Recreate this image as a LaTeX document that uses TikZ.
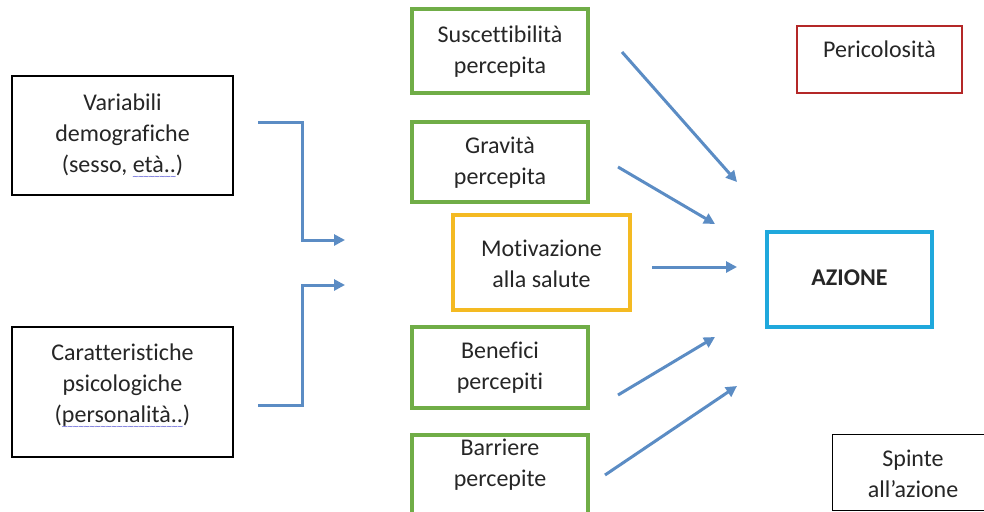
\documentclass[tikz,border=0pt]{standalone}
\usepackage{fontspec}
\setmainfont{Carlito}[Ligatures=NoCommon]
\newfontfamily\wavefont{DejaVu Sans}
\usetikzlibrary{arrows.meta}
\definecolor{gboxc}{HTML}{70AD47}
\definecolor{yboxc}{HTML}{F4BA22}
\definecolor{rboxc}{HTML}{B42828}
\definecolor{bboxc}{HTML}{1FA8DC}
\definecolor{arrc}{HTML}{5B8CC4}
\definecolor{txtc}{HTML}{262626}
\definecolor{wavec}{HTML}{4A4AD0}
\newcommand\spellwave[1]{\setbox0\hbox{#1}\rlap{\raisebox{-7pt}[0pt][0pt]{\hbox to \wd0{\color{wavec}\fontsize{8}{8}\wavefont\xleaders\hbox{\kern-0.7pt\char"223C\kern-0.7pt}\hfil}}}\box0}
\tikzset{
  x=1pt, y=-1pt,
  boxbase/.style={rectangle, inner sep=0pt, fill=white},
  kbox/.style={boxbase, draw=black, line width=1.3pt},
  gbox/.style={boxbase, draw=gboxc, line width=3.8pt},
  ybox/.style={boxbase, draw=yboxc, line width=3.8pt},
  rbox/.style={boxbase, draw=rboxc, line width=2.6pt},
  bbox/.style={boxbase, draw=bboxc, line width=3.8pt},
  txt/.style={align=center, text=txtc, inner sep=0pt, font=\fontsize{24}{31}\selectfont},
  arr/.style={draw=arrc, line width=3pt, -{Triangle[length=11pt,width=11pt]}},
  elbow/.style={draw=arrc, line width=3pt, -{Triangle[length=11pt,width=11pt]}}
}
\begin{document}
\begin{tikzpicture}
\useasboundingbox (0,0) rectangle (984,511);
\begin{scope}
\clip (0,0) rectangle (984,511);
% left boxes
\node[kbox, minimum width=221pt, minimum height=119pt] (vd) at (122.5,135.5) {};
\node[txt] (vdt) at (122.5,135) {Variabili\\demografiche\\(sesso, \spellwave{età..})};
\node[kbox, minimum width=221pt, minimum height=130pt] (cp) at (122.5,392) {};
\node[txt] (cpt) at (122.5,385) {Caratteristiche\\psicologiche\\(\spellwave{personalità..})};
% middle boxes
\node[gbox, minimum width=176pt, minimum height=84pt] (sp) at (500,51) {};
\node[txt] (spt) at (500,52) {Suscettibilità\\percepita};
\node[gbox, minimum width=176pt, minimum height=80pt] (gp) at (500,162) {};
\node[txt] (gpt) at (500,163) {Gravità\\percepita};
\node[ybox, minimum width=177pt, minimum height=95pt] (ms) at (541.5,262.5) {};
\node[txt] (mst) at (541.5,264) {Motivazione\\alla salute};
\node[gbox, minimum width=176pt, minimum height=81pt] (bp) at (500,367.5) {};
\node[txt] (bpt) at (500,368) {Benefici\\percepiti};
\node[gbox, minimum width=176pt, minimum height=90pt] (brp) at (500,480) {};
\node[txt] (brpt) at (500,465) {Barriere\\percepite};
% right boxes
\node[rbox, minimum width=165pt, minimum height=67pt] (per) at (879.5,59.5) {};
\node[txt, anchor=base] (pert) at (879.5,58) {Pericolosità};
\node[bbox, minimum width=165pt, minimum height=95pt] (az) at (849.5,279.5) {};
\node[txt, anchor=base, font=\fontsize{24}{31}\selectfont\bfseries] (azt) at (849.5,285) {AZIONE};
\node[boxbase, minimum width=170pt, minimum height=75pt] (spa) at (918,472.5) {};
\draw[black, line width=1.3pt] (spa.north east) -- (spa.north west) -- (spa.south west) -- (spa.south east);
\node[txt] (spat) at (913,474) {Spinte\\all’azione};
\end{scope}
% connector end points
\coordinate (d1) at (258,122);
\coordinate (j1) at (345,240);
\coordinate (d2) at (258,405);
\coordinate (j2) at (345,285);
\coordinate (a1s) at (622,52);  \coordinate (a1e) at (737,182);
\coordinate (a2s) at (618,167); \coordinate (a2e) at (715,224);
\coordinate (a3s) at (652,267); \coordinate (a3e) at (737,267);
\coordinate (a4s) at (618,395); \coordinate (a4e) at (715,337);
\coordinate (a5s) at (605,475); \coordinate (a5e) at (737,386);
% connectors
\draw[elbow] (d1) -- ++(44,0) |- (j1);
\draw[elbow] (d2) -- ++(44,0) |- (j2);
\draw[arr] (a1s) -- (a1e);
\draw[arr] (a2s) -- (a2e);
\draw[arr] (a3s) -- (a3e);
\draw[arr] (a4s) -- (a4e);
\draw[arr] (a5s) -- (a5e);
\end{tikzpicture}
\end{document}
